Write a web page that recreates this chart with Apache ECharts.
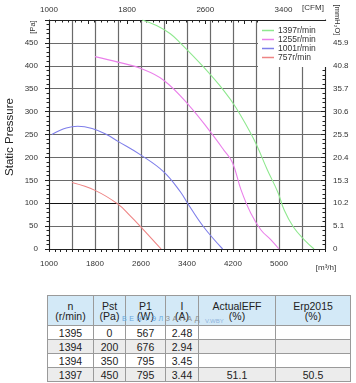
<!DOCTYPE html>
<html><head><meta charset="utf-8">
<script src="https://cdn.jsdelivr.net/npm/echarts@6/dist/echarts.min.js"></script>
<style>
html,body{margin:0;padding:0;background:#fff;width:356px;height:383px;overflow:hidden;font-family:"Liberation Sans",Arial,sans-serif;}
#chart{position:absolute;left:0;top:0;width:356px;height:290px;}
#tbl{position:absolute;left:47px;top:295px;border-collapse:collapse;font-size:10.5px;color:#222;table-layout:fixed;}
#tbl td,#tbl th{border:1px solid #9a9a9a;text-align:center;padding:0;font-weight:normal;line-height:10px;}
#tbl th{background:#d3e9f7;height:29px;}
#tbl td{height:13px;}
#tbl tr.alt td{background:#ececec;}
#wm{position:absolute;left:122px;top:315px;font-size:7px;letter-spacing:2.6px;color:#8a8a8a;}
#wm span{color:#6aa8e0;}
#wm2{position:absolute;left:205px;top:318px;font-size:6px;color:#8fb4dc;}
</style></head>
<body>
<div id="chart"></div>
<table id="tbl"></table>
<div id="wm"><span>ВЕНТЭЛ</span>ЗАПАД</div>
<div id="wm2">V.WBY</div>
<script>
// ---- data ----
const speeds = ['1397r/min', '1255r/min', '1001r/min', '757r/min'];
const flow1397 = [2620, 2870, 3110, 3290, 3690, 4040, 4250, 4560, 4800, 4980, 5090, 5250, 5440, 5610];
const pst1397  = [500, 488, 470, 449, 397, 346, 309, 240, 172, 124, 85, 48, 20, 0];
const flow1255 = [1800, 2200, 2600, 3000, 3460, 3810, 4040, 4190, 4340, 4510, 4690, 4860, 5000];
const pst1255  = [420, 408, 394, 368, 310, 255, 216, 189, 129, 78, 41, 20, 0];
const flow1001 = [1050, 1300, 1500, 1750, 2000, 2200, 2600, 3000, 3290, 3410, 3690, 4020];
const pst1001  = [250, 264, 268, 263, 250, 235, 205, 168, 124, 100, 48, 0];
const flow757  = [1400, 1800, 2200, 2400, 2600, 2950];
const pst757   = [145, 128, 98, 74, 48, 0];
const colors = ['#8fe88f', '#ea80ea', '#7e7eea', '#ee8484'];

const xTickLabels = [1000, 1800, 2600, 3400, 4200, 5000];
const cfmTickLabels = [1000, 1800, 2600, 3400];
const paTickLabels = [0, 50, 100, 150, 200, 250, 300, 350, 400, 450];
const mmTickLabels = ['0', '5.1', '10.2', '15.3', '20.4', '25.5', '30.6', '35.7', '40.8', '45.9'];

const tableHeader = ['n<br>(r/min)', 'Pst<br>(Pa)', 'P1<br>(W)', 'I<br>(A)', 'ActualEFF<br>(%)', 'Erp2015<br>(%)'];
const colN   = ['1395', '1394', '1394', '1397'];
const colPst = ['0', '200', '350', '450'];
const colP1  = ['567', '676', '795', '795'];
const colI   = ['2.48', '2.94', '3.45', '3.44'];
const colEff = ['', '', '', '51.1'];
const colErp = ['', '', '', '50.5'];
const colWidths = [46, 32, 40, 33, 77, 75];

// ---- table ----
(function(){
  const t = document.getElementById('tbl');
  let h = '<colgroup>' + colWidths.map(w => '<col style="width:' + w + 'px">').join('') + '</colgroup>';
  h += '<tr>' + tableHeader.map(s => '<th>' + s + '</th>').join('') + '</tr>';
  for (let i = 0; i < colN.length; i++) {
    h += '<tr class="' + (i % 2 ? 'alt' : '') + '">' +
      [colN[i], colPst[i], colP1[i], colI[i], colEff[i], colErp[i]].map(s => '<td>' + s + '</td>').join('') + '</tr>';
  }
  t.innerHTML = h;
})();

// ---- chart ----
const zip = (a, b) => a.map((v, i) => [v, b[i]]);
const seriesData = [zip(flow1397, pst1397), zip(flow1255, pst1255), zip(flow1001, pst1001), zip(flow757, pst757)];
const FONT = 'Liberation Sans';
const lbl = {fontSize: 8, color: '#333', fontFamily: FONT};
const gridColorsY = paTickLabels.concat([500]).map(v => v === 100 ? '#111' : '#6a6a6a');
const chart = echarts.init(document.getElementById('chart'), null, {renderer: 'canvas'});
chart.setOption({
  animation: false,
  backgroundColor: '#fff',
  grid: {left: 49, top: 20, width: 276, height: 229, containLabel: false},
  legend: {
    orient: 'vertical', left: 258, top: 21, padding: [5, 14, 5, 4],
    backgroundColor: '#fff', itemWidth: 12, itemHeight: 1.5, itemGap: 0,
    icon: 'rect', data: speeds,
    textStyle: {fontSize: 8.5, lineHeight: 9, color: '#333', fontFamily: FONT, padding: [0, 0, 0, -1]}
  },
  xAxis: [{
    type: 'value', position: 'bottom', min: 1000, max: 5800, interval: 400,
    axisLine: {show: true, onZero: false, lineStyle: {color: '#222'}},
    axisTick: {show: true, length: 3, lineStyle: {color: '#222'}},
    minorTick: {show: true, splitNumber: 4, length: 3, lineStyle: {color: '#222'}},
    splitLine: {show: true, lineStyle: {color: '#6a6a6a', width: 1.2}},
    axisLabel: Object.assign({margin: 11, formatter: v => xTickLabels.indexOf(v) >= 0 ? String(v) : ''}, lbl)
  }, {
    type: 'value', position: 'top', min: 1000, max: 3825, interval: 400,
    axisLine: {show: true, onZero: false, lineStyle: {color: '#222'}},
    axisTick: {show: true, inside: true, length: 4, lineStyle: {color: '#222'}},
    minorTick: {show: true, splitNumber: 6, length: 2.5, lineStyle: {color: '#222'}},
    splitLine: {show: false},
    axisLabel: Object.assign({margin: 6, showMaxLabel: false, formatter: v => cfmTickLabels.indexOf(v) >= 0 ? String(v) : ''}, lbl)
  }],
  yAxis: [{
    type: 'value', position: 'left', min: 0, max: 500, interval: 50,
    axisLine: {show: true, onZero: false, lineStyle: {color: '#222'}},
    axisTick: {show: true, length: 4, lineStyle: {color: '#222'}},
    minorTick: {show: true, splitNumber: 5, length: 2.5, lineStyle: {color: '#222'}},
    splitLine: {show: true, lineStyle: {color: gridColorsY, width: 1.2}},
    axisLabel: Object.assign({margin: 11, formatter: v => paTickLabels.indexOf(v) >= 0 ? String(v) : ''}, lbl)
  }, {
    type: 'value', position: 'right', min: 0, max: 500, interval: 50,
    axisLine: {show: true, onZero: false, lineStyle: {color: '#222'}},
    axisTick: {show: true, inside: true, length: 4, lineStyle: {color: '#222'}},
    minorTick: {show: true, splitNumber: 5, length: 2.5, lineStyle: {color: '#222'}},
    splitLine: {show: false},
    axisLabel: Object.assign({margin: 8, formatter: v => { const i = paTickLabels.indexOf(v); return i >= 0 ? mmTickLabels[i] : ''; }}, lbl)
  }],
  series: speeds.map((name, i) => ({
    name: name, type: 'line', xAxisIndex: 0, yAxisIndex: 0, smooth: 0.4,
    showSymbol: false, symbol: 'none', clip: true,
    lineStyle: {color: colors[i], width: 1.1}, itemStyle: {color: colors[i]},
    data: seriesData[i]
  })),
  graphic: [
    {type: 'text', x: 10, y: 137, rotation: Math.PI / 2,
     style: {text: 'Static Pressure', fontSize: 11.5, fill: '#222', fontFamily: FONT, align: 'center', verticalAlign: 'middle'}},
    {type: 'text', x: 33, y: 27, rotation: Math.PI / 2,
     style: {text: '[Pa]', fontSize: 7.5, fill: '#333', fontFamily: FONT, align: 'center', verticalAlign: 'middle'}},
    {type: 'text', x: 337, y: 20, rotation: -Math.PI / 2,
     style: {text: '[mmH\u2082O]', fontSize: 7.5, fill: '#333', fontFamily: FONT, align: 'center', verticalAlign: 'middle'}},
    {type: 'text', x: 313, y: 8,
     style: {text: '[CFM]', fontSize: 8, fill: '#333', fontFamily: FONT, align: 'center', verticalAlign: 'middle'}},
    {type: 'text', x: 326, y: 268,
     style: {text: '[m\u00b3/h]', fontSize: 8, fill: '#333', fontFamily: FONT, align: 'center', verticalAlign: 'middle'}}
  ]
});
</script>
</body></html>
